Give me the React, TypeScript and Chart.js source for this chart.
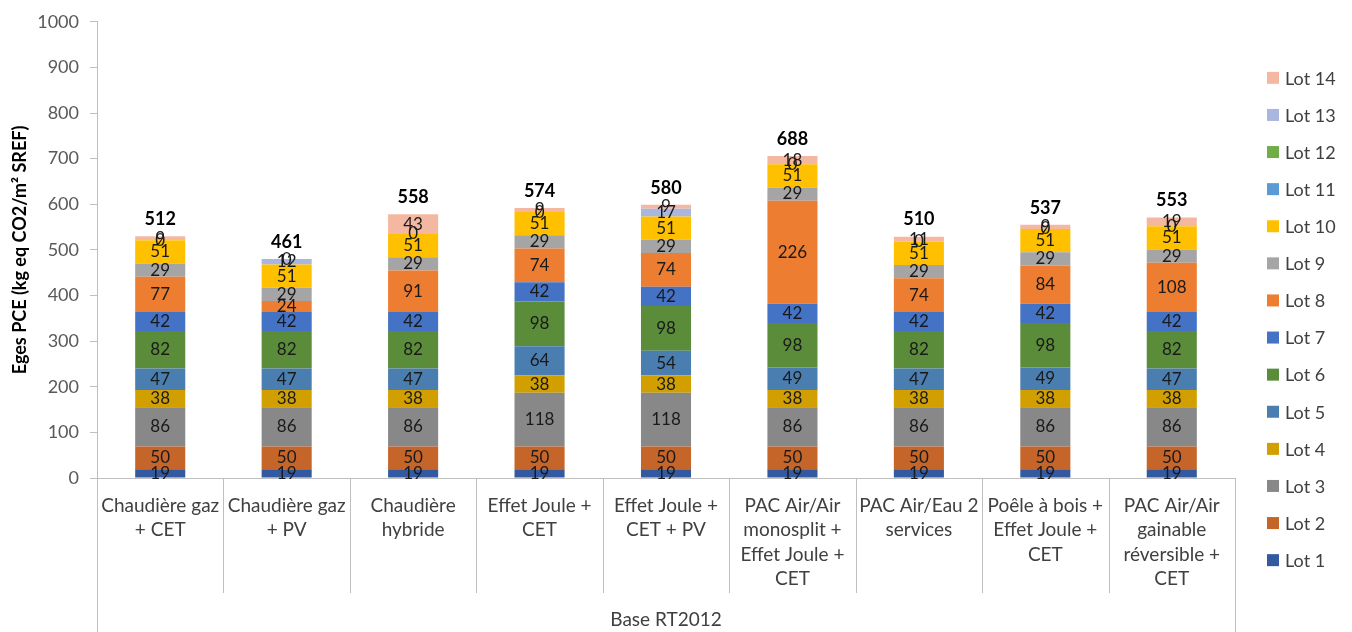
import { useEffect, useRef } from "react";
import { Chart, registerables } from "chart.js";

Chart.register(...registerables);

// Heating system variants (multi-line category labels)
const categories: string[][] = [
  ["Chaudière gaz", "+ CET"],
  ["Chaudière gaz", "+ PV"],
  ["Chaudière", "hybride"],
  ["Effet Joule +", "CET"],
  ["Effet Joule +", "CET + PV"],
  ["PAC Air/Air", "monosplit +", "Effet Joule +", "CET"],
  ["PAC Air/Eau 2", "services"],
  ["Poêle à bois +", "Effet Joule +", "CET"],
  ["PAC Air/Air", "gainable", "réversible +", "CET"],
];
const groupLabel = "Base RT2012";
const yTitle = "Eges PCE (kg eq CO2/m² SREF)";

// Emissions per lot, kg eq CO2/m² SREF
const lot1 = [19, 19, 19, 19, 19, 19, 19, 19, 19];
const lot2 = [50, 50, 50, 50, 50, 50, 50, 50, 50];
const lot3 = [86, 86, 86, 118, 118, 86, 86, 86, 86];
const lot4 = [38, 38, 38, 38, 38, 38, 38, 38, 38];
const lot5 = [47, 47, 47, 64, 54, 49, 47, 49, 47];
const lot6 = [82, 82, 82, 98, 98, 98, 82, 98, 82];
const lot7 = [42, 42, 42, 42, 42, 42, 42, 42, 42];
const lot8 = [77, 24, 91, 74, 74, 226, 74, 84, 108];
const lot9 = [29, 29, 29, 29, 29, 29, 29, 29, 29];
const lot10 = [51, 51, 51, 51, 51, 51, 51, 51, 51];
const lot11 = [0, null, 0, 0, null, 0, 0, 0, 0];
const lot12 = [null, null, null, null, null, null, null, null, null];
const lot13 = [null, 12, null, null, 17, null, null, null, null];
const lot14 = [9, 0, 43, 9, 9, 18, 11, 9, 19];

// Totals printed above each stack
const totals = [512, 461, 558, 574, 580, 688, 510, 537, 553];

const lotNames = [
  "Lot 1", "Lot 2", "Lot 3", "Lot 4", "Lot 5", "Lot 6", "Lot 7",
  "Lot 8", "Lot 9", "Lot 10", "Lot 11", "Lot 12", "Lot 13", "Lot 14",
];
const lotSeries = [
  lot1, lot2, lot3, lot4, lot5, lot6, lot7,
  lot8, lot9, lot10, lot11, lot12, lot13, lot14,
];
const lotColors = [
  "#335AA1", "#C5652A", "#888888", "#D1A000", "#4A7EB0", "#5A8C3A", "#4472C4",
  "#ED7D31", "#A5A5A5", "#FFC000", "#5B9BD5", "#70AD47", "#A9B6DF", "#F4B8A2",
];

const FONT = "Lato, 'Open Sans', sans-serif";
const AXIS_COLOR = "#BFBFBF";

// Segment values and stack totals
const valueLabels = {
  id: "valueLabels",
  afterDatasetsDraw(chart: Chart) {
    const ctx = chart.ctx;
    const ys = chart.scales.y;
    ctx.save();
    ctx.textAlign = "center";
    ctx.textBaseline = "middle";
    ctx.font = `17px ${FONT}`;
    ctx.fillStyle = "#1A1A1A";
    chart.data.datasets.forEach((ds, di) => {
      const meta = chart.getDatasetMeta(di);
      meta.data.forEach((bar: any, i: number) => {
        const v = ds.data[i] as number | null;
        if (v === null || v === undefined) return;
        const { x, y, base } = bar.getProps(["x", "y", "base"], true);
        ctx.fillText(String(Math.round(v)), x, (y + base) / 2);
      });
    });
    ctx.font = `bold 18px ${FONT}`;
    ctx.fillStyle = "#000000";
    const xs = chart.scales.x;
    totals.forEach((t, i) => {
      const stackTop = chart.data.datasets.reduce(
        (s, ds) => s + ((ds.data[i] as number | null) ?? 0),
        0
      );
      ctx.fillText(String(t), xs.getPixelForValue(i), ys.getPixelForValue(stackTop) - 17);
    });
    ctx.restore();
  },
};

// Two-level category axis and the legend on the right
const axisAndLegend = {
  id: "axisAndLegend",
  afterDraw(chart: Chart) {
    const ctx = chart.ctx;
    const area = chart.chartArea;
    const xs = chart.scales.x;
    const labels = chart.data.labels as string[][];
    const n = labels.length;
    const step = (area.right - area.left) / n;
    ctx.save();

    ctx.strokeStyle = AXIS_COLOR;
    ctx.lineWidth = 1;
    for (let k = 0; k <= n; k++) {
      const x = Math.round(area.left + k * step) + 0.5;
      const bottom = k === 0 || k === n ? chart.height : area.bottom + 115;
      ctx.beginPath();
      ctx.moveTo(x, area.bottom);
      ctx.lineTo(x, bottom);
      ctx.stroke();
    }

    ctx.fillStyle = "#404040";
    ctx.font = `19px ${FONT}`;
    ctx.textAlign = "center";
    ctx.textBaseline = "middle";
    labels.forEach((lines, i) => {
      const x = xs.getPixelForValue(i);
      lines.forEach((ln, j) => ctx.fillText(ln, x, area.bottom + 28 + j * 24.3));
    });
    ctx.fillText(groupLabel, (area.left + area.right) / 2, chart.height - 12);

    // Legend, listed from the top of the stack down
    const boxX = area.right + 32;
    const mid = chart.height / 2 + 3;
    const gap = 37.1;
    ctx.font = `18px ${FONT}`;
    ctx.textAlign = "left";
    const count = chart.data.datasets.length;
    for (let r = 0; r < count; r++) {
      const di = count - 1 - r;
      const ds = chart.data.datasets[di];
      const cy = mid + (r - (count - 1) / 2) * gap;
      ctx.fillStyle = ds.backgroundColor as string;
      ctx.fillRect(boxX, cy - 6, 12, 12);
      ctx.fillStyle = "#404040";
      ctx.fillText(ds.label as string, boxX + 18, cy + 1);
    }
    ctx.restore();
  },
};

export default function App() {
  const canvasRef = useRef<HTMLCanvasElement>(null);

  useEffect(() => {
    if (!canvasRef.current) return;
    const chart = new Chart(canvasRef.current, {
      type: "bar",
      data: {
        labels: categories,
        datasets: lotSeries.map((values, i) => ({
          label: lotNames[i],
          data: values,
          backgroundColor: lotColors[i],
          borderWidth: 0,
          barPercentage: 0.396,
          categoryPercentage: 1,
        })),
      },
      options: {
        responsive: true,
        maintainAspectRatio: false,
        animation: false,
        layout: { padding: { top: 17, right: 117, bottom: 0, left: 0 } },
        plugins: {
          legend: { display: false },
          tooltip: { enabled: false },
        },
        scales: {
          x: {
            stacked: true,
            offset: true,
            grid: { display: false },
            border: { display: true, color: AXIS_COLOR },
            ticks: { display: false },
            afterFit: (s: any) => {
              s.height = 154;
            },
          },
          y: {
            stacked: true,
            min: 0,
            max: 1000,
            ticks: {
              stepSize: 100,
              color: "#595959",
              padding: 11,
              font: { family: FONT, size: 18 },
              callback: (v: any) => String(v),
            },
            grid: {
              drawOnChartArea: false,
              drawTicks: true,
              tickLength: 7,
              color: AXIS_COLOR,
            },
            border: { display: true, color: AXIS_COLOR },
            title: {
              display: true,
              text: yTitle,
              color: "#000000",
              font: { family: FONT, size: 18, weight: "bold" },
              padding: { top: 9, bottom: 0 },
            },
            afterFit: (s: any) => {
              s.width = 97;
            },
          },
        },
      },
      plugins: [valueLabels, axisAndLegend],
    });
    return () => chart.destroy();
  }, []);

  return (
    <div style={{ position: "absolute", left: 0, top: 0, width: 1352, height: 632 }}>
      <canvas ref={canvasRef} />
    </div>
  );
}
